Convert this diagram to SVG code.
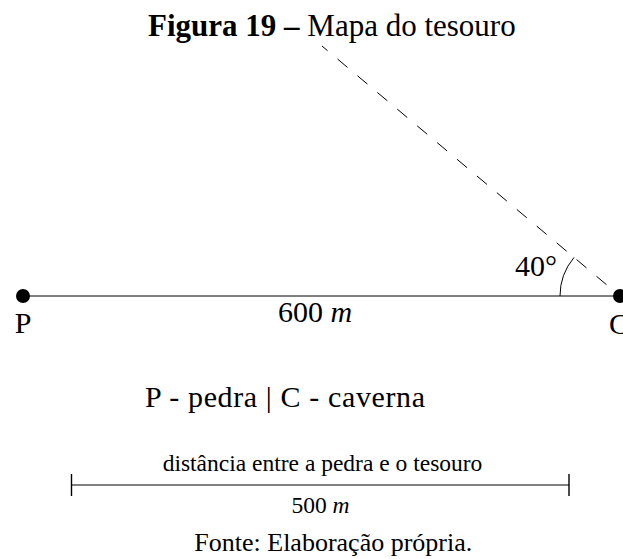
<svg xmlns="http://www.w3.org/2000/svg" width="623" height="559" viewBox="0 0 623 559">
<style>
text{font-family:"Liberation Serif","Times New Roman",serif;fill:#000}
.t30{font-size:30px}
.ln{stroke:#000;stroke-width:1;fill:none}
</style>
<rect width="623" height="559" fill="#fff"/>
<g id="title">
<text x="148" y="36" font-size="31"><tspan font-weight="bold">Figura 19 –</tspan> Mapa do tesouro</text>
</g>
<g id="connectors">
<line class="ln" x1="22" y1="296" x2="620" y2="296"/>
<line class="ln" x1="620" y1="296" x2="322" y2="46" stroke-dasharray="13 13" stroke-dashoffset="8.3"/>
<path class="ln" d="M560 296 A60 60 0 0 1 574.04 257.43"/>
</g>
<g id="angle-label">
<text class="t30" x="515" y="275.5">40°</text>
</g>
<g id="node-P">
<circle cx="23" cy="296" r="7" fill="#000"/>
<text class="t30" x="23" y="333" text-anchor="middle">P</text>
</g>
<g id="node-C">
<circle cx="620" cy="296" r="7" fill="#000"/>
<text class="t30" x="609" y="334">C</text>
</g>
<g id="distance-label">
<text class="t30" x="278" y="322">600 <tspan font-style="italic">m</tspan></text>
</g>
<g id="legend">
<text class="t30" x="145" y="407" textLength="280" lengthAdjust="spacing">P - pedra | C - caverna</text>
</g>
<g id="scale-bar">
<text x="322.5" y="471" font-size="23.5" text-anchor="middle">distância entre a pedra e o tesouro</text>
<line x1="71.5" y1="485" x2="569" y2="485" stroke="#000" stroke-width="1"/>
<line x1="71.5" y1="474" x2="71.5" y2="496" stroke="#000" stroke-width="1.4"/>
<line x1="569" y1="474" x2="569" y2="496" stroke="#000" stroke-width="1.4"/>
<text x="320.5" y="513" font-size="23.5" text-anchor="middle">500 <tspan font-style="italic">m</tspan></text>
</g>
<g id="source">
<text x="333.3" y="551" font-size="26" text-anchor="middle">Fonte: Elaboração própria.</text>
</g>
</svg>
